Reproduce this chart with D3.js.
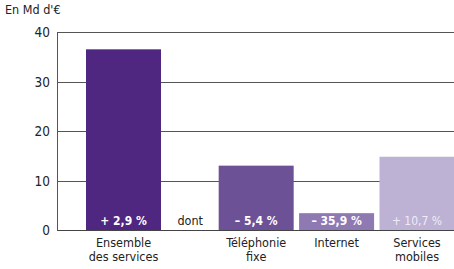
<!DOCTYPE html>
<html><head><meta charset="utf-8">
<script src="https://cdn.jsdelivr.net/npm/d3@7/dist/d3.min.js"></script>
<style>body{margin:0;background:#fff}svg{display:block;font-family:"DejaVu Sans Condensed","DejaVu Sans",sans-serif}</style>
</head><body><svg id="c" width="454" height="269"></svg>
<script>
const categories = ["Ensemble\ndes services", "Téléphonie\nfixe", "Internet", "Services\nmobiles"];
const values = [36.5, 13.0, 3.4, 14.8];
const changes = ["+ 2,9 %", "– 5,4 %", "– 35,9 %", "+ 10,7 %"];
const colors = ["#4f2780", "#6d5196", "#8f79b2", "#bdb1d4"];
const slots = [0, 1.65, 2.65, 3.65];
const dontSlot = 0.83;
const yTicks = [0, 10, 20, 30, 40];

const svg = d3.select("#c");
const y = d3.scaleLinear().domain([0, 40]).range([230, 32]);
const x = d3.scaleLinear().domain([0, 3.65]).range([123.5, 417]);
const bw = 75;

// gridlines
svg.append("g").selectAll("line").data(yTicks.filter(d => d > 0)).join("line")
  .attr("x1", 57).attr("x2", 454).attr("y1", d => Math.round(y(d)) + 0.5).attr("y2", d => Math.round(y(d)) + 0.5)
  .attr("stroke", "#555").attr("stroke-width", 1);

// bars
svg.append("g").selectAll("rect").data(values).join("rect")
  .attr("x", (d, i) => x(slots[i]) - bw / 2).attr("width", bw)
  .attr("y", d => y(d)).attr("height", d => y(0) - y(d))
  .attr("fill", (d, i) => colors[i]);

// baseline & axis
svg.append("line").attr("x1", 57).attr("x2", 454).attr("y1", 230.5).attr("y2", 230.5).attr("stroke", "#444");
svg.append("line").attr("x1", 57.5).attr("x2", 57.5).attr("y1", 32).attr("y2", 231).attr("stroke", "#555");

// y tick labels
svg.append("g").selectAll("text").data(yTicks).join("text")
  .attr("x", 50).attr("y", d => y(d) + 5).attr("text-anchor", "end")
  .attr("font-size", 13.5).attr("fill", "#222").text(d => d);

// title
svg.append("text").attr("x", 5).attr("y", 14).attr("font-size", 12.5).attr("fill", "#222").text("En Md d'€");

// change labels
svg.append("g").selectAll("text").data(changes).join("text")
  .attr("x", (d, i) => x(slots[i])).attr("y", 224.5).attr("text-anchor", "middle")
  .attr("font-size", 12).attr("fill", (d, i) => i === 3 ? "#f0ecf6" : "#fff")
  .attr("font-weight", (d, i) => i === 3 ? "normal" : "bold").text(d => d);
svg.append("text").attr("x", x(dontSlot)).attr("y", 224.5).attr("text-anchor", "middle")
  .attr("font-size", 12.5).attr("fill", "#222").text("dont");

// category labels (one text per line)
categories.forEach((c, i) => {
  c.split("\n").forEach((l, j) => {
    svg.append("text").attr("x", x(slots[i])).attr("y", 247 + j * 14)
      .attr("text-anchor", "middle").attr("font-size", 12.5).attr("fill", "#222").text(l);
  });
});
</script></body></html>
